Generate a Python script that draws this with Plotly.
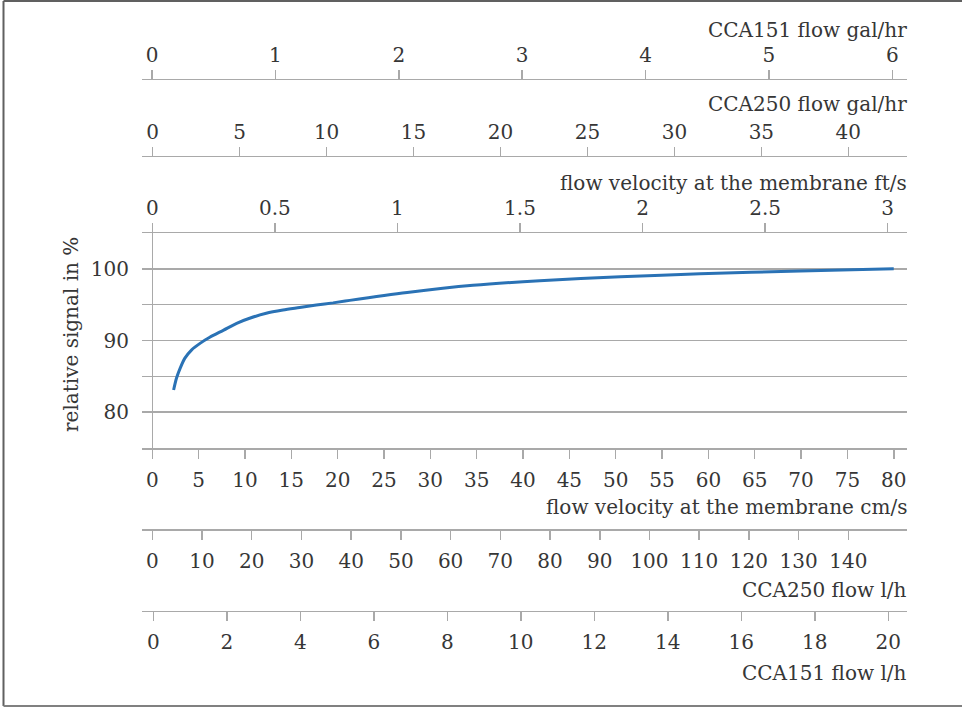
import plotly.graph_objects as go

# ---- data ----
velocity_cms = [2.3, 2.6, 3.0, 3.5, 4.25, 5.15, 6.2, 7.7, 9.1, 10.5, 12.3, 14.1,
                15.9, 17.7, 19.5, 21.3, 27.5, 34.6, 41.8, 50.5, 59.1, 69.9, 80.0]
signal_pct = [83.1, 84.7, 86.1, 87.5, 88.7, 89.6, 90.45, 91.45, 92.4, 93.1, 93.8, 94.25,
              94.6, 94.95, 95.25, 95.6, 96.7, 97.7, 98.35, 98.9, 99.3, 99.7, 100.0]

cms_ticks = list(range(0, 81, 5))
fts_ticks = [0, 0.5, 1, 1.5, 2, 2.5, 3]
fts_labels = ["0", "0.5", "1", "1.5", "2", "2.5", "3"]
cca250_galhr_ticks = list(range(0, 41, 5))
cca151_galhr_ticks = list(range(0, 7, 1))
cca250_lh_ticks = list(range(0, 141, 10))
cca151_lh_ticks = list(range(0, 21, 2))
signal_ticks = [75, 80, 85, 90, 95, 100, 105]
signal_labels = ["", "80", "", "90", "", "100", ""]

titles = {
    "cca151_galhr": "CCA151 flow gal/hr",
    "cca250_galhr": "CCA250 flow gal/hr",
    "fts": "flow velocity at the membrane ft/s",
    "cms": "flow velocity at the membrane cm/s",
    "cca250_lh": "CCA250 flow l/h",
    "cca151_lh": "CCA151 flow l/h",
    "signal": "relative signal in %",
}

# ---- layout helpers ----
W, H = 962, 707
FONT = "DejaVu Serif"
TXT = "#363636"
AX = "#a9a9a9"


def fx(p):
    return p / W


def fy(p):
    return 1 - p / H


XDOM = [fx(142), fx(907)]
tickfont = dict(family=FONT, size=20, color=TXT)


def xaxis_style(tickvals, rng, side, ticktext=None, standoff=0, **kw):
    d = dict(
        domain=XDOM, range=rng, side=side, tickmode="array", tickvals=tickvals,
        ticks="outside", ticklen=9, tickwidth=1.5, tickcolor=AX,
        showline=True, linecolor=AX, linewidth=1.5, showgrid=False,
        zeroline=False, tickfont=tickfont, tickangle=0,
        ticklabelstandoff=standoff, fixedrange=True,
    )
    if ticktext is not None:
        d["ticktext"] = ticktext
    d.update(kw)
    return d


fig = go.Figure()
fig.add_trace(go.Scatter(
    x=velocity_cms, y=signal_pct, mode="lines",
    line=dict(color="#2a72b5", width=3, shape="spline", smoothing=0.8),
    showlegend=False, hoverinfo="skip",
))
# empty traces so that every secondary unit axis is created and drawn
for ax in ["x2", "x3", "x4", "x5", "x6"]:
    fig.add_trace(go.Scatter(x=[], y=[], xaxis=ax, yaxis="y", mode="lines",
                             showlegend=False, hoverinfo="skip"))

fig.update_layout(
    width=W, height=H,
    margin=dict(l=0, r=0, t=0, b=0),
    paper_bgcolor="white", plot_bgcolor="white",
    showlegend=False,
    xaxis=xaxis_style(cms_ticks, [-1.111, 81.43], "bottom", anchor="y",
                      standoff=4, zeroline=True, zerolinecolor=AX, zerolinewidth=1.5),
    yaxis=dict(
        domain=[fy(448), fy(233)], range=[75, 105], tickmode="array",
        tickvals=signal_ticks, ticktext=signal_labels, showgrid=True,
        gridcolor=AX, gridwidth=1.5, showline=False, zeroline=False,
        ticks="", tickfont=tickfont, ticklabelstandoff=12, fixedrange=True,
    ),
    xaxis2=xaxis_style(fts_ticks, [-0.0420, 3.0787], "top", ticktext=fts_labels,
                       overlaying="x", anchor="y"),
    xaxis3=xaxis_style(cca250_galhr_ticks, [-0.6153, 43.375], "top",
                       overlaying="x", anchor="free", position=fy(155.7)),
    xaxis4=xaxis_style(cca151_galhr_ticks, [-0.0811, 6.1189], "top",
                       overlaying="x", anchor="free", position=fy(78.7)),
    xaxis5=xaxis_style(cca250_lh_ticks, [-2.072, 151.8], "bottom",
                       overlaying="x", anchor="free", position=fy(529), standoff=4),
    xaxis6=xaxis_style(cca151_lh_ticks, [-0.3075, 20.509], "bottom",
                       overlaying="x", anchor="free", position=fy(610.7), standoff=4),
)

# axis titles (right aligned like the reference)
title_pos = [
    ("cca151_galhr", 30),
    ("cca250_galhr", 104),
    ("fts", 183),
    ("cms", 507),
    ("cca250_lh", 590),
    ("cca151_lh", 673),
]
for key, ypix in title_pos:
    fig.add_annotation(
        text=titles[key], xref="paper", yref="paper", x=fx(909), y=fy(ypix),
        xanchor="right", yanchor="middle", showarrow=False,
        font=dict(family=FONT, size=20, color=TXT),
    )

fig.add_annotation(
    text=titles["signal"], xref="paper", yref="paper", x=fx(71), y=fy(335),
    xanchor="center", yanchor="middle", textangle=-90, showarrow=False,
    font=dict(family=FONT, size=20, color=TXT),
)

# outer frame: left, top and bottom edges (the right edge is cut off in the reference)
frame = dict(color="#606060", width=2)
fig.add_shape(type="line", xref="paper", yref="paper",
              x0=fx(3.5), x1=fx(3.5), y0=fy(706), y1=fy(1), line=frame, layer="above")
fig.add_shape(type="line", xref="paper", yref="paper",
              x0=fx(3.5), x1=1, y0=fy(1), y1=fy(1), line=frame, layer="above")
fig.add_shape(type="line", xref="paper", yref="paper",
              x0=fx(3.5), x1=1, y0=fy(706), y1=fy(706),
              line=dict(color="#808080", width=2), layer="above")

fig.write_html(
    "out.html",
    config={"displayModeBar": False, "staticPlot": True},
    post_script="document.body.style.margin='0px';document.body.style.overflow='hidden';",
)
